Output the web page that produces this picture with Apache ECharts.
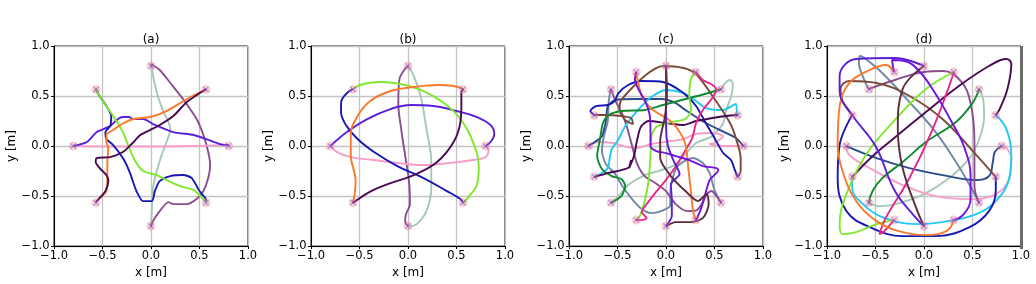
<!DOCTYPE html>
<html><head><meta charset="utf-8">
<script src="https://cdn.jsdelivr.net/npm/echarts@6/dist/echarts.min.js"></script>
<style>html,body{margin:0;padding:0;background:#fff}#chart{width:1036px;height:284px}</style>
</head><body><div id="chart"></div>
<script>
// ---------- tick labels / titles ----------
const tickLabels = ['\u22121.0', '\u22120.5', '0.0', '0.5', '1.0'];
const panelTitles = ['(a)', '(b)', '(c)', '(d)'];
const axisNames = ['x [m]', 'y [m]'];

// ---------- start / goal positions ----------
const goals8 = [[0.8,0],[0.566,0.566],[0,0.8],[-0.566,0.566],[-0.8,0],[-0.566,-0.566],[0,-0.8],[0.566,-0.566]];
const goals16 = [[0.8,0],[0.739,0.306],[0.566,0.566],[0.306,0.739],[0,0.8],[-0.306,0.739],[-0.566,0.566],[-0.739,0.306],
  [-0.8,0],[-0.739,-0.306],[-0.566,-0.566],[-0.306,-0.739],[0,-0.8],[0.306,-0.739],[0.566,-0.566],[0.739,-0.306]];

// ---------- panel (a) ----------
const a_pink = [[-0.8,0],[-0.4,-0.005],[0,-0.005],[0.4,0.0],[0.8,0.01]];
const a_indigo = [[-0.8,0],[-0.66,0.04],[-0.56,0.14],[-0.49,0.17],[-0.42,0.2],[-0.34,0.27],[-0.29,0.29],[-0.23,0.29],[-0.18,0.27],[-0.08,0.27],[0.02,0.22],[0.23,0.14],[0.44,0.11],[0.57,0.07],[0.71,0.02],[0.8,0.01]];
const a_navy = [[-0.57,0.57],[-0.53,0.5],[-0.46,0.4],[-0.41,0.3],[-0.42,0.2],[-0.47,0.14],[-0.46,0.07],[-0.39,0.01],[-0.29,-0.12],[-0.22,-0.26],[-0.15,-0.45],[-0.08,-0.55],[0.01,-0.55],[0.04,-0.45],[0.09,-0.35],[0.2,-0.3],[0.33,-0.29],[0.42,-0.32],[0.5,-0.45],[0.56,-0.52],[0.57,-0.56]];
const a_lime = [[-0.57,0.57],[-0.49,0.44],[-0.39,0.3],[-0.29,0.14],[-0.18,-0.12],[-0.08,-0.25],[0.06,-0.29],[0.16,-0.34],[0.3,-0.4],[0.44,-0.44],[0.51,-0.5],[0.57,-0.56]];
const a_orange = [[0.57,0.57],[0.37,0.47],[0.16,0.35],[-0.01,0.29],[-0.18,0.27],[-0.3,0.22],[-0.39,0.16],[-0.46,0.11],[-0.46,0.04],[-0.44,-0.02],[-0.45,-0.16],[-0.45,-0.32],[-0.46,-0.45],[-0.53,-0.52],[-0.57,-0.56]];
const a_dpurple = [[0.57,0.57],[0.37,0.44],[0.23,0.3],[0.09,0.21],[-0.01,0.16],[-0.11,0.11],[-0.2,0.02],[-0.29,-0.06],[-0.42,-0.11],[-0.56,-0.12],[-0.57,-0.16],[-0.53,-0.22],[-0.46,-0.29],[-0.44,-0.35],[-0.47,-0.45],[-0.53,-0.52],[-0.57,-0.56]];
const a_mauve = [[0,0.82],[0.09,0.76],[0.2,0.63],[0.33,0.47],[0.47,0.27],[0.54,0.11],[0.59,-0.06],[0.61,-0.19],[0.59,-0.32],[0.54,-0.45],[0.47,-0.53],[0.37,-0.58],[0.23,-0.58],[0.18,-0.56],[0.09,-0.65],[0.02,-0.75],[0,-0.8]];
const a_sage = [[0,0.82],[0.03,0.66],[0.07,0.5],[0.13,0.34],[0.18,0.24],[0.2,0.17],[0.16,0.04],[0.11,-0.09],[0.06,-0.25],[0.02,-0.42],[0.01,-0.62],[0,-0.8]];

// ---------- panel (b) ----------
const b_pink = [[-0.8,0],[-0.73,-0.06],[-0.59,-0.11],[-0.35,-0.14],[-0.11,-0.17],[0.16,-0.19],[0.43,-0.17],[0.67,-0.14],[0.8,-0.11],[0.83,-0.04],[0.8,0]];
const b_indigo = [[-0.8,0],[-0.63,0.14],[-0.42,0.27],[-0.18,0.37],[0.03,0.41],[0.26,0.4],[0.5,0.35],[0.71,0.29],[0.85,0.21],[0.89,0.12],[0.85,0.04],[0.8,0]];
const b_navy = [[-0.57,0.57],[-0.64,0.52],[-0.69,0.43],[-0.69,0.34],[-0.64,0.21],[-0.52,0.07],[-0.35,-0.06],[-0.11,-0.2],[0.16,-0.32],[0.4,-0.45],[0.54,-0.53],[0.57,-0.57]];
const b_lime = [[-0.57,0.57],[-0.46,0.62],[-0.28,0.64],[-0.08,0.62],[0.16,0.55],[0.37,0.43],[0.54,0.27],[0.67,0.04],[0.73,-0.22],[0.71,-0.39],[0.64,-0.49],[0.57,-0.57]];
const b_orange = [[0.57,0.57],[0.47,0.6],[0.3,0.61],[0.06,0.59],[-0.18,0.55],[-0.39,0.45],[-0.52,0.3],[-0.59,0.11],[-0.59,-0.09],[-0.54,-0.35],[-0.55,-0.48],[-0.57,-0.57]];
const b_dpurple = [[0.57,0.57],[0.55,0.53],[0.55,0.4],[0.54,0.24],[0.47,0.04],[0.3,-0.16],[0.06,-0.29],[-0.18,-0.37],[-0.38,-0.45],[-0.57,-0.57]];
const b_mauve = [[0,0.8],[-0.04,0.76],[-0.09,0.66],[-0.1,0.43],[-0.07,0.17],[-0.03,-0.09],[0.01,-0.35],[0.02,-0.58],[-0.02,-0.68],[-0.03,-0.75],[0,-0.8]];
const b_sage = [[0,0.8],[0.06,0.7],[0.13,0.5],[0.19,0.17],[0.24,-0.16],[0.24,-0.42],[0.19,-0.65],[0.09,-0.78],[0.02,-0.8]];

// ---------- panel (c) ----------
const c_pink = [[-0.8,0],[-0.7,0.04],[-0.55,0.03],[-0.4,-0.01],[-0.3,-0.02],[-0.15,0.02],[0.05,0.05],[0.18,0.07],[0.31,0.12],[0.48,0.13],[0.59,0.1],[0.5,0.03],[0.45,0.02],[0.6,0.0],[0.8,0]];
const c_slate = [[-0.8,0],[-0.72,0.05],[-0.66,0.1],[-0.62,0.25],[-0.6,0.4],[-0.52,0.46],[-0.3,0.47],[-0.05,0.47],[0.1,0.43],[0.2,0.36],[0.41,0.23],[0.6,0.14],[0.72,0.08],[0.8,0]];
const c_navy = [[-0.74,0.31],[-0.78,0.35],[-0.72,0.4],[-0.6,0.41],[-0.53,0.45],[-0.49,0.53],[-0.39,0.61],[-0.25,0.65],[-0.03,0.64],[0.18,0.53],[0.31,0.4],[0.41,0.23],[0.5,0.08],[0.59,-0.07],[0.67,-0.14],[0.71,-0.24],[0.74,-0.31]];
const c_brown = [[0.74,-0.31],[0.77,-0.25],[0.77,-0.12],[0.72,0.08],[0.66,0.23],[0.48,0.5],[0.31,0.72],[0.18,0.78],[-0.03,0.8],[-0.22,0.7],[-0.46,0.46],[-0.48,0.36],[-0.42,0.26],[-0.34,0.22],[-0.36,0.28],[-0.46,0.3],[-0.63,0.31],[-0.74,0.31]];
const c_cyan = [[-0.74,-0.31],[-0.66,-0.27],[-0.6,-0.22],[-0.58,-0.12],[-0.56,-0.03],[-0.5,0.05],[-0.42,0.2],[-0.29,0.36],[-0.15,0.49],[0,0.56],[0.18,0.53],[0.31,0.45],[0.41,0.38],[0.59,0.36],[0.72,0.42],[0.73,0.35],[0.74,0.31]];
const c_dpurple = [[-0.74,-0.31],[-0.6,-0.27],[-0.46,-0.24],[-0.38,-0.21],[-0.36,-0.14],[-0.38,-0.22],[-0.33,-0.1],[-0.3,0.05],[-0.26,0.19],[-0.18,0.25],[0,0.23],[0.18,0.21],[0.31,0.25],[0.48,0.28],[0.62,0.3],[0.74,0.31]];
const c_green = [[0.57,0.57],[0.4,0.52],[0.24,0.48],[-0.03,0.41],[-0.22,0.36],[-0.46,0.35],[-0.59,0.31],[-0.65,0.23],[-0.68,0.07],[-0.71,-0.1],[-0.66,-0.23],[-0.56,-0.3],[-0.46,-0.33],[-0.42,-0.4],[-0.46,-0.5],[-0.57,-0.57]];
const c_sage = [[0.57,0.57],[0.6,0.62],[0.66,0.66],[0.69,0.62],[0.67,0.49],[0.62,0.36],[0.59,0.23],[0.48,0.1],[0.31,0.03],[0.2,-0.08],[0.09,-0.19],[-0.08,-0.25],[-0.22,-0.29],[-0.39,-0.39],[-0.49,-0.5],[-0.57,-0.57]];
const c_gray = [[-0.57,0.57],[-0.59,0.45],[-0.6,0.25],[-0.64,0.1],[-0.66,-0.05],[-0.62,-0.18],[-0.53,-0.27],[-0.45,-0.4],[-0.35,-0.53],[-0.25,-0.63],[-0.15,-0.67],[-0.05,-0.65],[0.04,-0.6],[0.05,-0.4],[0.12,-0.2],[0.28,-0.12],[0.38,-0.17],[0.45,-0.27],[0.5,-0.44],[0.57,-0.57]];
const c_mauve = [[-0.57,0.57],[-0.52,0.45],[-0.45,0.32],[-0.4,0.18],[-0.36,0.04],[-0.3,-0.17],[-0.22,-0.3],[-0.11,-0.37],[0,-0.45],[0.1,-0.58],[0.22,-0.65],[0.32,-0.64],[0.38,-0.56],[0.42,-0.48],[0.47,-0.45],[0.52,-0.5],[0.57,-0.57]];
const c_lime = [[0.31,0.74],[0.26,0.68],[0.24,0.5],[0.26,0.36],[0.2,0.27],[0.05,0.24],[-0.1,0.19],[-0.15,0.1],[-0.16,-0.1],[-0.18,-0.35],[-0.22,-0.55],[-0.27,-0.7],[-0.31,-0.74]];
const c_magenta = [[0.31,0.74],[0.38,0.66],[0.48,0.61],[0.52,0.56],[0.47,0.47],[0.38,0.36],[0.31,0.23],[0.27,0.08],[0.19,-0.06],[0.09,-0.22],[-0.01,-0.35],[-0.12,-0.48],[-0.2,-0.58],[-0.25,-0.66],[-0.2,-0.72],[-0.25,-0.74],[-0.31,-0.74]];
const c_orange = [[-0.31,0.74],[-0.29,0.65],[-0.25,0.5],[-0.15,0.37],[0.02,0.27],[0.12,0.17],[0.2,0.02],[0.23,-0.22],[0.26,-0.48],[0.28,-0.66],[0.31,-0.74]];
const c_violet = [[-0.31,0.74],[-0.32,0.66],[-0.28,0.56],[-0.22,0.46],[-0.17,0.32],[-0.16,0.15],[-0.16,0.0],[-0.1,-0.05],[0.0,-0.07],[0.1,-0.1],[0.24,-0.14],[0.38,-0.2],[0.52,-0.22],[0.54,-0.24],[0.45,-0.34],[0.4,-0.5],[0.36,-0.63],[0.31,-0.74]];
const c_indigo = [[0,0.8],[0,0.5],[0,0.2],[0.02,0.0],[0.08,-0.15],[0.14,-0.28],[0.05,-0.38],[0.06,-0.55],[0.06,-0.7],[0,-0.8]];
const c_maroon = [[0,0.8],[0.01,0.55],[-0.01,0.3],[-0.06,0.05],[-0.06,-0.12],[0.05,-0.3],[0.2,-0.45],[0.33,-0.55],[0.42,-0.48],[0.44,-0.58],[0.38,-0.72],[0.25,-0.76],[0.1,-0.76],[0,-0.8]];

// ---------- panel (d) ----------
const d_dpurple = [[-0.74,-0.31],[-0.55,-0.12],[-0.32,0.07],[0.02,0.34],[0.36,0.6],[0.67,0.8],[0.85,0.87],[0.9,0.82],[0.86,0.57],[0.78,0.37],[0.74,0.31]];
const d_cyan = [[0.74,0.31],[0.85,0.17],[0.9,-0.09],[0.88,-0.32],[0.74,-0.55],[0.54,-0.68],[0.19,-0.76],[-0.08,-0.78],[-0.43,-0.71],[-0.63,-0.58],[-0.74,-0.42],[-0.74,-0.31]];
const d_navy = [[-0.74,0.31],[-0.87,0.01],[-0.89,-0.32],[-0.8,-0.65],[-0.56,-0.81],[-0.22,-0.9],[0.12,-0.9],[0.47,-0.81],[0.67,-0.65],[0.74,-0.45],[0.74,-0.31]];
const d_brown = [[0.74,-0.31],[0.54,-0.09],[0.19,0.27],[-0.15,0.5],[-0.49,0.63],[-0.77,0.65],[-0.86,0.57],[-0.84,0.45],[-0.74,0.31]];
const d_pink = [[-0.8,0],[-0.77,-0.09],[-0.56,-0.22],[-0.22,-0.39],[0.12,-0.5],[0.47,-0.53],[0.74,-0.48],[0.88,-0.32],[0.9,-0.12],[0.85,-0.02],[0.8,0]];
const d_slate = [[-0.8,0],[-0.49,-0.12],[-0.15,-0.22],[0.19,-0.29],[0.54,-0.34],[0.67,-0.3],[0.71,-0.16],[0.73,-0.06],[0.8,0]];
const d_lime = [[0.31,0.74],[0.02,0.57],[-0.32,0.24],[-0.6,-0.09],[-0.8,-0.48],[-0.87,-0.78],[-0.84,-0.88],[-0.7,-0.86],[-0.49,-0.78],[-0.31,-0.74]];
const d_magenta = [[0.31,0.74],[0.09,0.17],[-0.15,-0.32],[-0.39,-0.71],[-0.46,-0.88],[-0.42,-0.86],[-0.31,-0.74]];
const d_indigo = [[0,0.8],[-0.3,0.88],[-0.7,0.87],[-0.87,0.7],[-0.87,0.55],[-0.74,0.31],[-0.5,0],[-0.3,-0.45],[-0.1,-0.7],[0,-0.8]];
const d_violet = [[-0.31,0.74],[-0.33,0.86],[-0.2,0.85],[-0.05,0.75],[0.12,0.52],[0.28,0.25],[0.41,0.0],[0.48,-0.3],[0.48,-0.53],[0.41,-0.68],[0.31,-0.74]];
const d_mauve = [[-0.57,0.57],[-0.3,0.66],[0,0.74],[0.2,0.75],[0.38,0.65],[0.48,0.43],[0.52,0.03],[0.52,-0.4],[0.57,-0.57]];
const d_gray = [[-0.57,0.57],[-0.62,0.67],[-0.67,0.83],[-0.66,0.9],[-0.6,0.87],[-0.43,0.73],[-0.15,0.44],[0.12,0.14],[0.33,-0.16],[0.47,-0.39],[0.57,-0.57]];
const d_green = [[0.57,0.57],[0.5,0.43],[0.33,0.24],[0.02,0.04],[-0.22,-0.16],[-0.43,-0.32],[-0.53,-0.45],[-0.57,-0.57]];
const d_sage = [[0.57,0.57],[0.61,0.47],[0.62,0.3],[0.57,0.07],[0.47,-0.12],[0.26,-0.32],[0,-0.48],[-0.29,-0.58],[-0.46,-0.6],[-0.57,-0.57]];
const d_orange = [[0.31,-0.74],[0.23,-0.85],[0.02,-0.89],[-0.22,-0.86],[-0.49,-0.75],[-0.7,-0.55],[-0.84,-0.25],[-0.89,0.01],[-0.87,0.4],[-0.77,0.63],[-0.56,0.76],[-0.39,0.81],[-0.31,0.74]];
const d_maroon = [[0,0.8],[-0.22,0.57],[-0.27,0.17],[-0.22,-0.22],[-0.08,-0.62],[0,-0.8]];

// ---------- colours ----------
const colors = {
  pink:'#f59fc8', indigo:'#5b1fd8', navy:'#1818b4', lime:'#7ee82a', orange:'#f87a2c', dpurple:'#4a0a52',
  mauve:'#8a4d90', sage:'#a6c8b6', cyan:'#22c8f4', gray:'#7088a8', brown:'#7a4a38', green:'#0f8a2e',
  magenta:'#e8268a', violet:'#7412e0', slate:'#2a4a8e', maroon:'#5e2a40'
};

const panels = [
  {smooth:0.25, goals:goals8, lines:[['sage',a_sage],['mauve',a_mauve],['pink',a_pink],['indigo',a_indigo],['navy',a_navy],['lime',a_lime],['orange',a_orange],['dpurple',a_dpurple]]},
  {smooth:0.4, goals:goals8, lines:[['sage',b_sage],['mauve',b_mauve],['pink',b_pink],['indigo',b_indigo],['navy',b_navy],['lime',b_lime],['orange',b_orange],['dpurple',b_dpurple]]},
  {smooth:0.25, goals:goals16, lines:[['sage',c_sage],['pink',c_pink],['gray',c_gray],['slate',c_slate],['mauve',c_mauve],['cyan',c_cyan],['brown',c_brown],['green',c_green],['navy',c_navy],['dpurple',c_dpurple],['lime',c_lime],['magenta',c_magenta],['orange',c_orange],['violet',c_violet],['indigo',c_indigo],['maroon',c_maroon]]},
  {smooth:0.4, goals:goals16, lines:[['sage',d_sage],['pink',d_pink],['gray',d_gray],['slate',d_slate],['mauve',d_mauve],['cyan',d_cyan],['brown',d_brown],['green',d_green],['navy',d_navy],['dpurple',d_dpurple],['lime',d_lime],['magenta',d_magenta],['orange',d_orange],['violet',d_violet],['indigo',d_indigo],['maroon',d_maroon]]}
];

// ---------- layout ----------
const gridLefts = [54, 311, 569, 827];
const gridTop = 46, gridW = 194, gridH = 203;
const FONT = 'DejaVu Sans';
const fmt = v => tickLabels[Math.round((v + 1) / 0.5)];
const xMark = 'path://M0,1L1,0L5,4L9,0L10,1L6,5L10,9L9,10L5,6L1,10L0,9L4,5Z';

const grids = [], xAxes = [], yAxes = [], series = [], graphics = [];
panels.forEach((p, i) => {
  grids.push({left: gridLefts[i], top: gridTop, width: gridW, height: gridH, show: true, borderColor: '#000', borderWidth: 1, backgroundColor: 'transparent'});
  const common = {
    type: 'value', gridIndex: i, min: -1, max: 1, interval: 0.5,
    nameLocation: 'middle',
    nameTextStyle: {fontSize: 12, color: '#000', fontFamily: FONT},
    axisLine: {show: true, onZero: false, lineStyle: {color: '#000', width: 1}},
    axisTick: {show: true, length: 3, lineStyle: {color: '#000', width: 1}},
    axisLabel: {fontSize: 11.5, color: '#000', fontFamily: FONT, formatter: fmt},
    splitLine: {show: true, lineStyle: {color: '#c4c4c4', width: 1.3}}
  };
  xAxes.push(Object.assign({}, common, {name: axisNames[0], nameGap: 14, axisLabel: Object.assign({}, common.axisLabel, {margin: 4})}));
  yAxes.push(Object.assign({}, common, {name: axisNames[1], nameGap: 32, axisLabel: Object.assign({}, common.axisLabel, {margin: 4.5})}));
  p.lines.forEach(([c, d], k) => {
    series.push({type: 'line', xAxisIndex: i, yAxisIndex: i, data: d, showSymbol: false, symbol: 'none',
      smooth: p.smooth, lineStyle: {color: colors[c], width: 1.9}, itemStyle: {color: colors[c]}, z: 2 + k * 0.01, silent: true});
  });
  series.push({type: 'scatter', xAxisIndex: i, yAxisIndex: i, data: p.goals, symbol: 'circle', symbolSize: 9,
    itemStyle: {color: 'rgba(248,120,130,0.45)'}, z: 4, silent: true});
  series.push({type: 'scatter', xAxisIndex: i, yAxisIndex: i, data: p.goals, symbol: xMark, symbolSize: 6,
    itemStyle: {color: 'rgba(90,70,235,0.75)'}, z: 5, silent: true});
  graphics.push({type: 'text', x: gridLefts[i] + gridW / 2, y: 40, style: {text: panelTitles[i], textAlign: 'center', textVerticalAlign: 'middle', font: '12px "' + FONT + '"', fill: '#000'}});
});
graphics.push({type: 'rect', shape: {x: 1020, y: 46, width: 3, height: 203}, style: {fill: '#6a6a6a'}, z: 10});

const chart = echarts.init(document.getElementById('chart'), null, {renderer: 'canvas'});
chart.setOption({
  animation: false,
  backgroundColor: '#fff',
  grid: grids, xAxis: xAxes, yAxis: yAxes, series: series, graphic: graphics
});
</script></body></html>
